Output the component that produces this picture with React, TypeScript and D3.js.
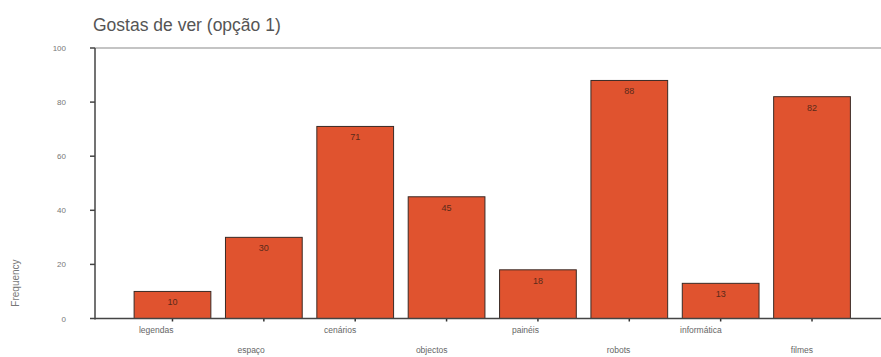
import React from "react";
import * as d3 from "d3";

const categories = ["legendas", "espaço", "cenários", "objectos", "painéis", "robots", "informática", "filmes"];
const values = [10, 30, 71, 45, 18, 88, 13, 82];
const yTicks = [0, 20, 40, 60, 80, 100];
const title = "Gostas de ver (opção 1)";
const yLabel = "Frequency";

const W = 881;
const H = 357;

export default function App() {
  const x = d3
    .scaleBand<string>()
    .domain(categories)
    .range([126.8, 857.7])
    .paddingInner(0.16)
    .paddingOuter(0.08);
  const y = d3.scaleLinear().domain([0, 100]).range([318.5, 48]);
  const axisX = 95;
  const font = "Liberation Sans, Arial, sans-serif";

  return (
    <svg width={W} height={H} style={{ position: "absolute", left: 0, top: 0, background: "#fff" }} fontFamily={font}>
      <text x={93} y={31} fontSize={17.5} fill="#555">{title}</text>
      <line x1={axisX} x2={W} y1={y(100)} y2={y(100)} stroke="#8a8a8a" strokeWidth={1.2} />
      {categories.map((c, i) => {
        const cx = x(c)! + x.bandwidth() / 2;
        return (
          <g key={c}>
            <rect
              x={x(c)!}
              y={y(values[i])}
              width={x.bandwidth()}
              height={y(0) - y(values[i])}
              fill="#E0532F"
              stroke="#3a2a25"
              strokeWidth={1}
            />
            <text x={cx} y={y(values[i]) + 14} textAnchor="middle" fontSize={9} fill="#5a2a1a">
              {values[i]}
            </text>
            <line x1={cx} x2={cx} y1={y(0)} y2={y(0) + 3} stroke="#333" strokeWidth={1.5} />
            <text x={cx + 1} y={i % 2 === 0 ? 333 : 353} textAnchor="end" fontSize={8.5} fill="#666">
              {c}
            </text>
          </g>
        );
      })}
      <line x1={axisX} x2={axisX} y1={y(100)} y2={y(0) + 1} stroke="#444" strokeWidth={1.5} />
      <line x1={axisX} x2={W} y1={y(0)} y2={y(0)} stroke="#444" strokeWidth={1.5} />
      {yTicks.map((t) => (
        <g key={t}>
          <line x1={axisX - 5} x2={axisX} y1={y(t)} y2={y(t)} stroke="#444" strokeWidth={1.5} />
          <text x={66} y={y(t) + 3} textAnchor="end" fontSize={8} fill="#777">
            {t}
          </text>
        </g>
      ))}
      <text transform={`translate(19,283) rotate(-90)`} textAnchor="middle" fontSize={10} fill="#777">
        {yLabel}
      </text>
    </svg>
  );
}
